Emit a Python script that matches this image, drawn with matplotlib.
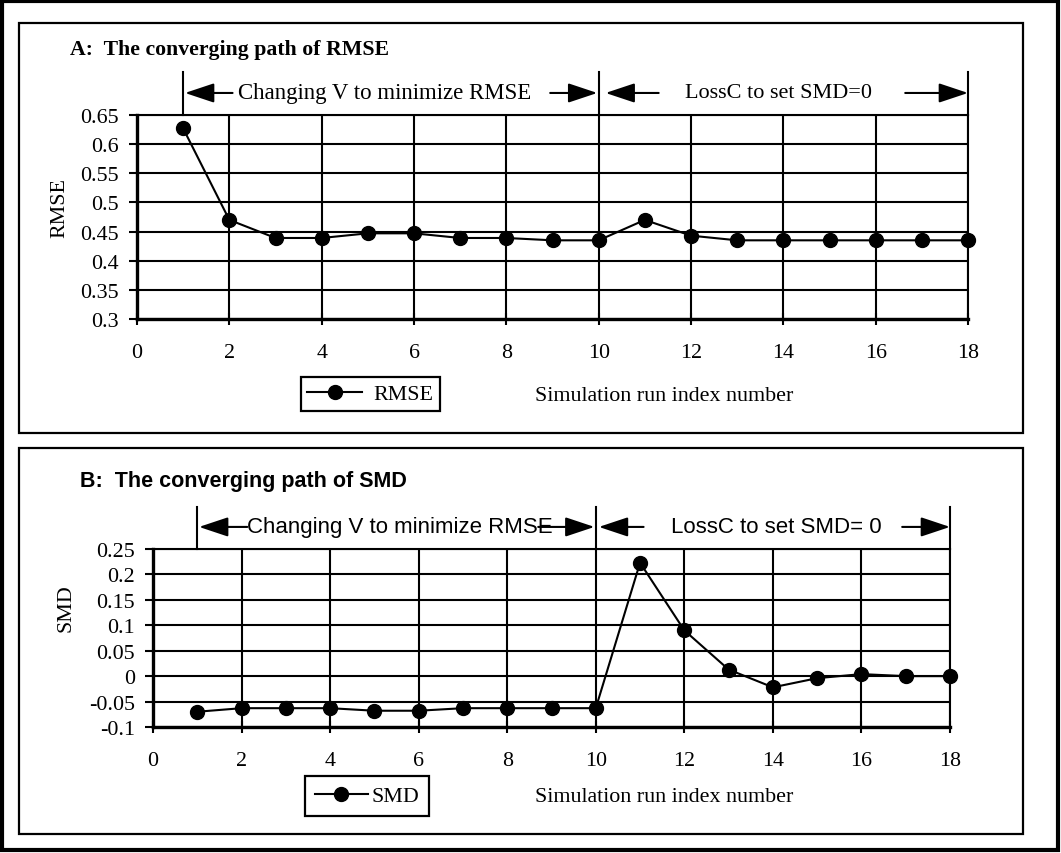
#!/usr/bin/env python3
"""
Two-panel converging path chart (RMSE and SMD vs simulation run)
"""

import matplotlib
matplotlib.use('Agg')
import matplotlib.pyplot as plt
from matplotlib.patches import Rectangle
import matplotlib.transforms as mtransforms

SERIF = 'Liberation Serif'
SANS = 'Liberation Sans'

# data
runs = [1, 2, 3, 4, 5, 6, 7, 8, 9, 10, 11, 12, 13, 14, 15, 16, 17, 18]
rmse = [0.627, 0.470, 0.439, 0.439, 0.447, 0.447, 0.439, 0.439, 0.435,
        0.435, 0.470, 0.443, 0.435, 0.435, 0.435, 0.435, 0.435, 0.435]
smd = [-0.070, -0.063, -0.063, -0.063, -0.068, -0.068, -0.063, -0.063, -0.063,
       -0.063, 0.223, 0.090, 0.013, -0.022, -0.004, 0.004, 0.000, 0.000]

x_ticks = [0, 2, 4, 6, 8, 10, 12, 14, 16, 18]
rmse_ticks = [0.3, 0.35, 0.4, 0.45, 0.5, 0.55, 0.6, 0.65]
rmse_ticklabels = ['0.3', '0.35', '0.4', '0.45', '0.5', '0.55', '0.6', '0.65']
smd_ticks = [-0.1, -0.05, 0, 0.05, 0.1, 0.15, 0.2, 0.25]
smd_ticklabels = ['-0.1', '-0.05', '0', '0.05', '0.1', '0.15', '0.2', '0.25']

FS = 15.8  # serif body text size

W, H = 1061, 854
fig = plt.figure(figsize=(W / 100, H / 100), dpi=100)


def px_box(x0, y0, x1, y1):
    """pixel box (top-left origin) -> figure fraction rect"""
    return [x0 / W, 1 - y1 / H, (x1 - x0) / W, (y1 - y0) / H]


def frame(x0, y0, x1, y1, lw):
    l, b, w, h = px_box(x0, y0, x1, y1)
    fig.patches.append(Rectangle((l, b), w, h, transform=fig.transFigure,
                                 fill=False, edgecolor='black', linewidth=lw))


# outer frame and the two panel frames
frame(2, 2, 1058, 851, 3.0)
frame(19, 24, 1023, 434, 1.6)
frame(19, 449, 1023, 835, 1.6)


def style_axes(ax, yticks, yticklabels, ylim):
    ax.set_xlim(0, 18)
    ax.set_ylim(*ylim)
    ax.set_xticks(x_ticks)
    ax.set_xticklabels([str(t) for t in x_ticks], family=SERIF, fontsize=FS)
    ax.set_yticks(yticks)
    ax.set_yticklabels(yticklabels, family=SERIF, fontsize=FS)
    ax.grid(True, color='black', linewidth=1.5)
    ax.set_axisbelow(True)
    ax.tick_params(axis='y', direction='out', length=6, width=1.5, pad=7)
    ax.tick_params(axis='x', direction='inout', length=8, width=1.5, pad=13)
    for side in ['left', 'bottom']:
        ax.spines[side].set_linewidth(2.4)
    for side in ['top', 'right']:
        ax.spines[side].set_linewidth(1.5)


def span_arrow(ax, x_tail, x_tip, y):
    trans = mtransforms.blended_transform_factory(ax.transData, ax.transAxes)
    ax.annotate('', xy=(x_tip, y), xytext=(x_tail, y),
                xycoords=trans, textcoords=trans, annotation_clip=False,
                arrowprops=dict(arrowstyle='-|>,head_length=0.9,head_width=0.3',
                                mutation_scale=20, color='black', lw=1.5,
                                shrinkA=0, shrinkB=0))


def span_line(ax, x, y0, y1):
    trans = mtransforms.blended_transform_factory(ax.transData, ax.transAxes)
    ax.plot([x, x], [y0, y1], color='black', lw=1.5, transform=trans, clip_on=False)


# ---------------- Panel A: RMSE ----------------
axA = fig.add_axes(px_box(137, 116, 968, 320))
axA.plot(runs, rmse, color='black', lw=1.5, marker='o', markersize=10,
         label='RMSE', clip_on=False, zorder=5)
style_axes(axA, rmse_ticks, rmse_ticklabels, (0.3, 0.65))
axA.set_ylabel('RMSE', family=SERIF, fontsize=FS)
axA.yaxis.set_label_coords(-0.081, 0.549)

fig.text(70 / W, 1 - 50 / H, 'A:  The converging path of RMSE', family=SERIF,
         fontsize=15.7, fontweight='bold', ha='left', va='center')

yA = 1.108
for x in [1, 10, 18]:
    span_line(axA, x, 1.0, 1.21)
span_arrow(axA, 2.07, 1.04, yA)
span_arrow(axA, 8.95, 9.97, yA)
span_arrow(axA, 11.3, 10.15, yA)
span_arrow(axA, 16.64, 18.0, yA)
trA = mtransforms.blended_transform_factory(axA.transData, axA.transAxes)
axA.text(5.37, yA, 'Changing V to minimize RMSE', transform=trA, family=SERIF,
         fontsize=16.5, ha='center', va='center')
axA.text(13.9, yA, 'LossC to set SMD=0', transform=trA, family=SERIF,
         fontsize=16.0, ha='center', va='center')

legA = axA.legend(loc='center', bbox_to_anchor=(370 / W, 1 - 395 / H),
                  bbox_transform=fig.transFigure, prop={'family': SERIF, 'size': FS},
                  fancybox=False, edgecolor='black', framealpha=1,
                  handlelength=2.5, handletextpad=0.5, borderpad=0.3, numpoints=1)
legA.get_frame().set_linewidth(1.6)
fig.text(664 / W, 1 - 397 / H, 'Simulation run index number', family=SERIF,
         fontsize=FS, ha='center', va='center')

# ---------------- Panel B: SMD ----------------
axB = fig.add_axes(px_box(153, 550, 950, 728))
axB.plot(runs, smd, color='black', lw=1.5, marker='o', markersize=10,
         label='SMD', clip_on=False, zorder=5)
style_axes(axB, smd_ticks, smd_ticklabels, (-0.1, 0.25))
axB.set_ylabel('SMD', family=SERIF, fontsize=FS)
axB.yaxis.set_label_coords(-0.097, 0.674)

fig.text(80 / W, 1 - 482 / H, 'B:  The converging path of SMD', family=SANS,
         fontsize=15.5, fontweight='bold', ha='left', va='center')

yB = 1.124
for x in [1, 10, 18]:
    span_line(axB, x, 1.0, 1.236)
span_arrow(axB, 2.13, 1.04, yB)
span_arrow(axB, 8.7, 9.97, yB)
span_arrow(axB, 11.08, 10.07, yB)
span_arrow(axB, 16.92, 18.0, yB)
trB = mtransforms.blended_transform_factory(axB.transData, axB.transAxes)
axB.text(5.57, yB, 'Changing V to minimize RMSE', transform=trB, family=SANS,
         fontsize=16.0, ha='center', va='center')
axB.text(14.08, yB, 'LossC to set SMD= 0', transform=trB, family=SANS,
         fontsize=16.0, ha='center', va='center')

legB = axB.legend(loc='center', bbox_to_anchor=(367 / W, 1 - 797 / H),
                  bbox_transform=fig.transFigure, prop={'family': SERIF, 'size': FS},
                  fancybox=False, edgecolor='black', framealpha=1,
                  handlelength=2.4, handletextpad=0.15, borderpad=0.45, numpoints=1)
legB.get_frame().set_linewidth(1.6)
fig.text(664 / W, 1 - 798 / H, 'Simulation run index number', family=SERIF,
         fontsize=FS, ha='center', va='center')

fig.savefig('out.png', dpi=100)
